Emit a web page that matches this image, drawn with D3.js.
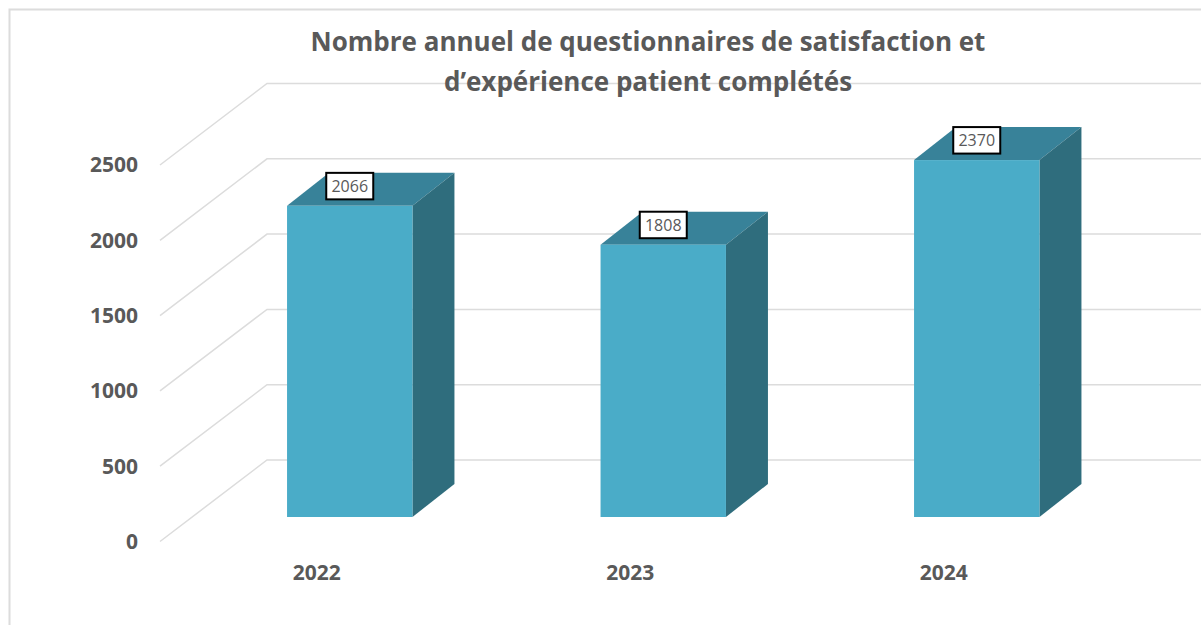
<!DOCTYPE html>
<html lang="fr">
<head>
<meta charset="UTF-8"/>
<title>Questionnaires de satisfaction</title>
<script src="https://d3js.org/d3.v7.min.js"></script>
<style>
  html, body { margin: 0; padding: 0; background: #fff; overflow: hidden; }
  svg { display: block; }
</style>
</head>
<body>
<script>
var w = 1201, h = 625;

var years = ["2022", "2023", "2024"];
var counts = [2066, 1808, 2370];
var tickValues = [0, 500, 1000, 1500, 2000, 2500];
var titleLines = ["Nombre annuel de questionnaires de satisfaction et", "d\u2019expérience patient complétés"];

var textColor = "#595959";
var gridColor = "#dcdcdc";
var font = "'Open Sans', sans-serif";

// height of a value on the walls and on the bars
var yScale = d3.scaleLinear().domain([0, 2500]).range([0, 376.5]);
var xScale = d3.scaleBand().domain(years).range([193, 1133.5]).paddingInner(0.6).paddingOuter(0.3);

var wallBottom = 460;   // back wall, value 0
var sideBottom = 541.5; // front end of the floor lines, value 0
var barBottom = 517;    // front face of the bars
var depthX = 42, depthY = 33;

var svg = d3.select("body").append("svg").attr("width", w).attr("height", h);

// outer frame, only top and left are visible
svg.append("path")
  .attr("d", "M9.5," + h + "V9.5H" + w)
  .attr("fill", "none")
  .attr("stroke", gridColor)
  .attr("stroke-width", 2);

//-------gridlines-------
svg.selectAll(".grid")
  .data(tickValues)
  .enter()
  .append("polyline")
  .attr("class", "grid")
  .attr("points", function (d) {
    var hgt = yScale(d);
    return [[160, sideBottom - hgt], [267, wallBottom - hgt], [w, wallBottom - hgt]].join(" ");
  })
  .attr("fill", "none")
  .attr("stroke", gridColor)
  .attr("stroke-width", 1.5);

//-------bars-------
var bars = svg.selectAll(".bar")
  .data(counts)
  .enter()
  .append("g")
  .attr("class", "bar");

function barX(i) { return xScale(years[i]); }
function barTop(d) { return barBottom - yScale(d); }

bars.append("polygon") // top
  .attr("points", function (d, i) {
    var x = barX(i), t = barTop(d), b = xScale.bandwidth();
    return [[x, t], [x + depthX, t - depthY], [x + b + depthX, t - depthY], [x + b, t]].join(" ");
  })
  .attr("fill", "#388299");

bars.append("polygon") // side
  .attr("points", function (d, i) {
    var x = barX(i) + xScale.bandwidth(), t = barTop(d);
    return [[x, t], [x + depthX, t - depthY], [x + depthX, barBottom - depthY], [x, barBottom]].join(" ");
  })
  .attr("fill", "#2f6d7d");

bars.append("rect") // front
  .attr("x", function (d, i) { return barX(i); })
  .attr("y", barTop)
  .attr("width", xScale.bandwidth())
  .attr("height", function (d) { return yScale(d); })
  .attr("fill", "#4aacc8");

//-------value labels-------
bars.append("rect")
  .attr("x", function (d, i) { return barX(i) + xScale.bandwidth() / 2 - 23.5; })
  .attr("y", function (d) { return barTop(d) - 33; })
  .attr("width", 47)
  .attr("height", 26.5)
  .attr("fill", "#fff")
  .attr("stroke", "#000")
  .attr("stroke-width", 2);

bars.append("text")
  .attr("x", function (d, i) { return barX(i) + xScale.bandwidth() / 2; })
  .attr("y", function (d) { return barTop(d) - 19.5; })
  .attr("dy", "0.35em")
  .attr("text-anchor", "middle")
  .attr("font-family", font)
  .attr("font-size", 16)
  .attr("fill", textColor)
  .text(function (d) { return d; });

//-------axis labels-------
svg.selectAll(".ytick")
  .data(tickValues)
  .enter()
  .append("text")
  .attr("class", "ytick")
  .attr("x", 138)
  .attr("y", function (d) { return sideBottom - yScale(d); })
  .attr("dy", "0.35em")
  .attr("text-anchor", "end")
  .attr("font-family", font)
  .attr("font-weight", 700)
  .attr("font-size", 21)
  .attr("fill", textColor)
  .text(function (d) { return d; });

svg.selectAll(".xtick")
  .data(years)
  .enter()
  .append("text")
  .attr("class", "xtick")
  .attr("x", function (d) { return xScale(d) + xScale.bandwidth() / 2 - 33; })
  .attr("y", 572.5)
  .attr("dy", "0.35em")
  .attr("text-anchor", "middle")
  .attr("font-family", font)
  .attr("font-weight", 700)
  .attr("font-size", 21)
  .attr("fill", textColor)
  .text(function (d) { return d; });

//-------title-------
svg.selectAll(".title")
  .data(titleLines)
  .enter()
  .append("text")
  .attr("class", "title")
  .attr("x", 648)
  .attr("y", function (d, i) { return 42 + i * 40; })
  .attr("dy", "0.35em")
  .attr("text-anchor", "middle")
  .attr("font-family", font)
  .attr("font-weight", 700)
  .attr("font-size", 26)
  .attr("fill", textColor)
  .text(function (d) { return d; });
</script>
</body>
</html>
